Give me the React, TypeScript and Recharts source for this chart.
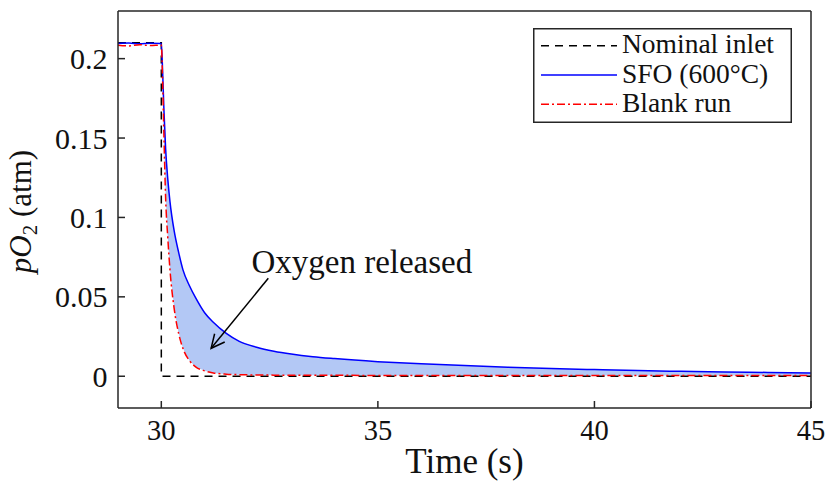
import React from 'react';
import {
  ComposedChart,
  Line,
  Area,
  XAxis,
  YAxis,
  Legend,
  Label,
  ReferenceLine,
  ReferenceDot,
} from 'recharts';

// shared time base for the two measured traces (s)
const TIME = [
  29, 29.25, 29.5, 29.75, 30, 30.03, 30.06, 30.1, 30.15, 30.2, 30.3, 30.4, 30.5, 30.65, 30.8, 31,
  31.2, 31.5, 31.8, 32.2, 32.6, 33, 33.5, 34, 35, 36, 37, 38, 39, 40, 41, 42, 43, 44, 45,
];
// pO2 (atm), SFO at 600°C
const SFO = [
  0.2095, 0.2098, 0.2094, 0.2097, 0.2095, 0.192, 0.168, 0.143, 0.124, 0.11, 0.091, 0.078, 0.067,
  0.057, 0.049, 0.04, 0.034, 0.027, 0.022, 0.0183, 0.0158, 0.014, 0.0123, 0.0111, 0.0092, 0.0078,
  0.0067, 0.0057, 0.0049, 0.0042, 0.0036, 0.0031, 0.0027, 0.0024, 0.0021,
];
// pO2 (atm), blank run
const BLANK = [
  0.2085, 0.208, 0.2088, 0.2082, 0.2086, 0.186, 0.152, 0.112, 0.087, 0.067, 0.042, 0.027, 0.0175,
  0.0098, 0.0058, 0.0034, 0.0021, 0.0013, 0.001, 0.0008, 0.0007, 0.0007, 0.0006, 0.0006, 0.0005,
  0.0005, 0.0005, 0.0005, 0.0005, 0.0005, 0.0005, 0.0005, 0.0005, 0.0005, 0.0005,
];
// step at the inlet
const NOMINAL_TIME = [29, 30, 30, 45];
const NOMINAL = [0.21, 0.21, 0, 0];

const X_TICKS = [30, 35, 40, 45];
const Y_TICKS = [0, 0.05, 0.1, 0.15, 0.2];
const LEGEND_LABELS = ['Nominal inlet', 'SFO (600°C)', 'Blank run'];
const ANNOTATION = 'Oxygen released';

const measured = TIME.map((t, i) => ({ t, sfo: SFO[i], blank: BLANK[i] }));
const released = measured.filter((d) => d.t >= 30);
const nominal = NOMINAL_TIME.map((t, i) => ({ t, v: NOMINAL[i] }));

const FONT = 'Liberation Serif, DejaVu Serif, serif';
const AXIS = '#262626';
const INK = '#111';

const LEGEND_STYLES = [
  { stroke: '#000', dash: '8 6' },
  { stroke: '#0000ff', dash: undefined },
  { stroke: '#ff0000', dash: '8 3 2 3' },
];

const renderLegend = () => (
  <svg width={259} height={95} style={{ display: 'block' }}>
    <rect x={0.75} y={0.75} width={257.5} height={93.5} fill="#fff" stroke={AXIS} strokeWidth={1.5} />
    {LEGEND_LABELS.map((name, i) => {
      const y = 17.7 + i * 29.3;
      const s = LEGEND_STYLES[i];
      return (
        <g key={name}>
          <line x1={8} x2={84} y1={y} y2={y} stroke={s.stroke} strokeWidth={1.5} strokeDasharray={s.dash} />
          <text x={89} y={y + 7.5} style={{ fontFamily: FONT }} fontSize={27.5} fill={INK}>
            {name}
          </text>
        </g>
      );
    })}
  </svg>
);

const Arrow = (p: any) => {
  const { x1, y1, x2, y2 } = p;
  const a = Math.atan2(y2 - y1, x2 - x1);
  const len = 15;
  const spread = 0.45;
  const h1 = `${x2 - len * Math.cos(a - spread)},${y2 - len * Math.sin(a - spread)}`;
  const h2 = `${x2 - len * Math.cos(a + spread)},${y2 - len * Math.sin(a + spread)}`;
  return (
    <g stroke="#000" strokeWidth={1.5} fill="none">
      <line x1={x1} y1={y1} x2={x2} y2={y2} />
      <polyline points={`${h1} ${x2},${y2} ${h2}`} />
    </g>
  );
};

const AnnotationText = (p: any) => (
  <text x={p.cx} y={p.cy} textAnchor="middle" style={{ fontFamily: FONT }} fontSize={33} fill={INK}>
    {ANNOTATION}
  </text>
);

const XTitle = ({ viewBox }: any) => (
  <text
    x={viewBox.x + viewBox.width / 2}
    y={viewBox.y + 65}
    textAnchor="middle"
    style={{ fontFamily: FONT }}
    fontSize={35}
    fill={INK}
  >
    Time (s)
  </text>
);

const YTitle = ({ viewBox }: any) => {
  const x = 31;
  const y = viewBox.y + viewBox.height / 2 + 2;
  return (
    <text
      x={x}
      y={y}
      transform={`rotate(-90 ${x} ${y})`}
      textAnchor="middle"
      style={{ fontFamily: FONT }}
      fontSize={31}
      fill={INK}
    >
      <tspan fontStyle="italic">pO</tspan>
      <tspan fontSize={21} dy={6}>2</tspan>
      <tspan dy={-6}> (atm)</tspan>
    </text>
  );
};

const xTickStyle = { fill: INK, fontSize: 28.5, fontFamily: FONT };
const yTickStyle = { fill: INK, fontSize: 30, fontFamily: FONT };

export default function App() {
  return (
    <div
      style={{
        position: 'absolute',
        left: 0,
        top: 0,
        width: 827,
        height: 483,
        background: '#fff',
        fontFamily: FONT,
      }}
    >
      <ComposedChart width={827} height={483} margin={{ top: 10, right: 15, bottom: 0, left: 0 }}>
        <XAxis
          dataKey="t"
          type="number"
          domain={[29, 45]}
          ticks={X_TICKS}
          allowDataOverflow
          height={75}
          tickSize={-7}
          tickMargin={19}
          stroke={AXIS}
          strokeWidth={1.5}
          tick={xTickStyle}
        >
          <Label content={XTitle} />
        </XAxis>
        <XAxis
          xAxisId="top"
          orientation="top"
          type="number"
          domain={[29, 45]}
          ticks={X_TICKS}
          allowDataOverflow
          height={1}
          tick={false}
          tickSize={-7}
          stroke={AXIS}
          strokeWidth={1.5}
        />
        <YAxis
          type="number"
          domain={[-0.02, 0.23]}
          ticks={Y_TICKS}
          allowDataOverflow
          width={118}
          tickSize={-7}
          tickMargin={17.5}
          stroke={AXIS}
          strokeWidth={1.5}
          tick={yTickStyle}
        >
          <Label content={YTitle} />
        </YAxis>
        <YAxis
          yAxisId="right"
          orientation="right"
          type="number"
          domain={[-0.02, 0.23]}
          ticks={Y_TICKS}
          allowDataOverflow
          width={1}
          tick={false}
          tickSize={-7}
          stroke={AXIS}
          strokeWidth={1.5}
        />

        <Area
          data={released}
          dataKey={(d: any) => [d.blank, d.sfo]}
          type="linear"
          stroke="none"
          fill="#b3c8f5"
          fillOpacity={1}
          dot={false}
          activeDot={false}
          isAnimationActive={false}
        />
        <Line
          data={nominal}
          dataKey="v"
          type="linear"
          stroke="#000"
          strokeWidth={1.5}
          strokeDasharray="8 6"
          dot={false}
          activeDot={false}
          isAnimationActive={false}
        />
        <Line
          data={measured}
          dataKey="sfo"
          type="monotone"
          stroke="#0000ff"
          strokeWidth={1.5}
          dot={false}
          activeDot={false}
          isAnimationActive={false}
        />
        <Line
          data={measured}
          dataKey="blank"
          type="monotone"
          stroke="#ff0000"
          strokeWidth={1.5}
          strokeDasharray="8 3 2 3"
          dot={false}
          activeDot={false}
          isAnimationActive={false}
        />

        <ReferenceLine
          segment={[
            { x: 32.47, y: 0.0617 },
            { x: 31.15, y: 0.0176 },
          ]}
          shape={Arrow}
        />
        <ReferenceDot x={34.63} y={0.0647} r={0} shape={AnnotationText} />

        <Legend
          layout="horizontal"
          verticalAlign="middle"
          align="center"
          content={renderLegend}
          wrapperStyle={{ left: 533, top: 28, width: 259, height: 95 }}
        />
      </ComposedChart>
    </div>
  );
}
